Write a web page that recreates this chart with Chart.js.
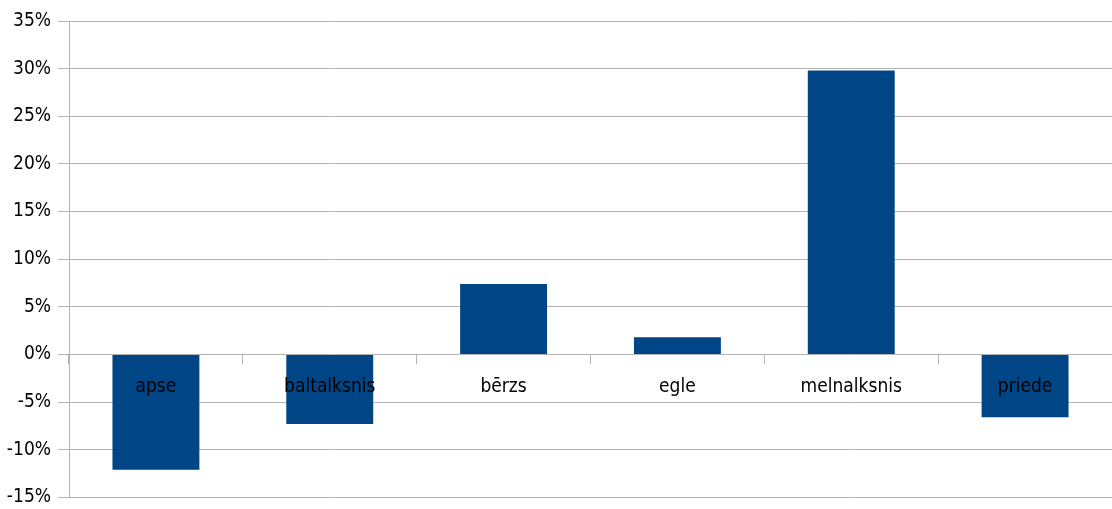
<!DOCTYPE html>
<html>
<head>
<meta charset="utf-8">
<script src="https://cdn.jsdelivr.net/npm/chart.js@4"></script>
<style>
  html, body { margin: 0; padding: 0; background: #fff; }
  #wrap { width: 1112px; height: 509px; }
</style>
</head>
<body>
<div id="wrap"><canvas id="changeChart"></canvas></div>
<script>
// Data
const species = ["apse", "baltalksnis", "bērzs", "egle", "melnalksnis", "priede"];
const changePct = [-12.1, -7.3, 7.4, 1.8, 29.8, -6.6];
const yTicks = [-15, -10, -5, 0, 5, 10, 15, 20, 25, 30, 35];

const fontFamily = "'Liberation Sans Narrow', 'DejaVu Sans Condensed', sans-serif";
const gridColor = "#b3b3b3";

const ctx = document.getElementById("changeChart").getContext("2d");

new Chart(ctx, {
  type: "bar",
  data: {
    labels: species,
    datasets: [
      {
        data: changePct,
        backgroundColor: "#004586",
        borderWidth: 0,
        categoryPercentage: 1,
        barPercentage: 0.5,
      },
    ],
  },
  options: {
    responsive: true,
    maintainAspectRatio: false,
    animation: false,
    layout: { padding: { top: 21, bottom: 10, left: 0, right: 0 } },
    plugins: {
      legend: { display: false },
      tooltip: { enabled: false },
    },
    scales: {
      x: {
        position: { y: 0 },
        offset: true,
        grid: {
          offset: true,
          drawOnChartArea: false,
          drawTicks: true,
          tickLength: 10,
          color: gridColor,
          z: 1,
        },
        border: { display: false },
        ticks: {
          z: 1,
          color: "#000",
          padding: 13,
          font: { family: fontFamily, size: 19, lineHeight: 1 },
        },
      },
      y: {
        min: -15,
        max: 35,
        afterBuildTicks: (scale) => {
          scale.ticks = yTicks.map((v) => ({ value: v }));
        },
        afterFit: (scale) => {
          scale.width = 69;
        },
        grid: {
          color: gridColor,
          tickLength: 11,
        },
        border: { color: gridColor },
        ticks: {
          color: "#000",
          padding: 7,
          font: { family: fontFamily, size: 19, lineHeight: 0.5 },
          callback: (v) => v + "%",
        },
      },
    },
  },
});
</script>
</body>
</html>
